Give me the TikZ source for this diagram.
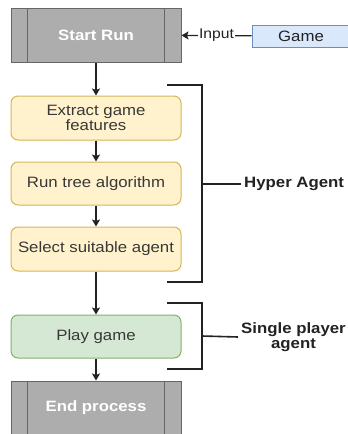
\documentclass[tikz,border=0pt]{standalone}
\usepackage{fontspec}
\setmainfont{Liberation Sans}[FakeStretch=1.12]
\usepackage{xcolor}
\usetikzlibrary{arrows.meta, positioning}

\definecolor{procfill}{HTML}{ADADAD}
\definecolor{procline}{HTML}{666666}
\definecolor{taskfill}{HTML}{FFF2CC}
\definecolor{taskline}{HTML}{D6B656}
\definecolor{playfill}{HTML}{D5E8D4}
\definecolor{playline}{HTML}{82B366}
\definecolor{gamefill}{HTML}{DAE8FC}
\definecolor{gameline}{HTML}{6C8EBF}
\definecolor{ink}{HTML}{222222}

\tikzset{
    proc/.style={draw=procline, fill=procfill, line width=1pt, minimum width=170pt,
        minimum height=54pt, text=white, font=\fontsize{15}{15}\selectfont\bfseries},
    task/.style={draw=taskline, fill=taskfill, line width=1pt, rounded corners=7pt,
        minimum width=170pt, minimum height=44pt, text=ink!90, align=center,
        font=\fontsize{15}{15}\selectfont},
    arr/.style={draw=ink, line width=1.2pt, -{Stealth[length=7pt, width=8pt, inset=1.5pt]}},
    brace/.style={draw=ink, line width=1.6pt},
    lbl/.style={text=ink, align=center, font=\fontsize{15}{15}\selectfont\bfseries}
}

\begin{document}
\begin{tikzpicture}[x=1pt, y=-1pt]
    \useasboundingbox (0,0) rectangle (348,434);

    % 开始 / 结束
    \node[proc] (start) at (96,35) {Start Run};
    \node[proc] (finish) at (96,408) {End process};
    \foreach \n in {start, finish} {
        \draw[procline, line width=1pt] ([xshift=17pt]\n.north west) -- ([xshift=17pt]\n.south west);
        \draw[procline, line width=1pt] ([xshift=-17pt]\n.north east) -- ([xshift=-17pt]\n.south east);
    }

    % 输入
    \node[draw=gameline, fill=gamefill, line width=1pt, minimum width=98pt, minimum height=22pt,
        text=ink, font=\fontsize{15}{15}\selectfont] (game) at (301,36) {Game};
    \draw[arr] (game) -- node[fill=white, inner sep=1pt, text=ink, font=\fontsize{14}{14}\selectfont] {Input} (start);

    % 步骤
    \node[task] (extract) at (96,118) {Extract game\\features};
    \node[task, minimum height=43pt] (tree) at (96,183.5) {Run tree algorithm};
    \node[task] (select) at (96,249) {Select suitable agent};
    \node[task, draw=playline, fill=playfill, minimum height=43pt] (play) at (96,336.5) {Play game};

    \draw[arr] (start) -- (extract);
    \draw[arr] (extract) -- (tree);
    \draw[arr] (tree) -- (select);
    \draw[arr] (select) -- (play);
    \draw[arr] (play) -- (finish);

    % 括号
    \coordinate (h1) at (167,85);
    \coordinate (h2) at (167,282);
    \coordinate (hm) at (202,184);
    \draw[brace] (h1) -| (hm) |- (h2);
    \node[lbl, anchor=west, inner sep=3pt] (hyper) at (241,184) {Hyper Agent};
    \draw[brace] (hm) -- (hyper.west);

    \coordinate (s1) at (167,303);
    \coordinate (s2) at (167,369);
    \coordinate (sm) at (202,336);
    \draw[brace] (s1) -| (sm) |- (s2);
    \node[lbl, anchor=west, inner sep=3pt] (single) at (238,337) {Single player\\agent};
    \draw[brace] (sm) -- (single.west);
\end{tikzpicture}
\end{document}
